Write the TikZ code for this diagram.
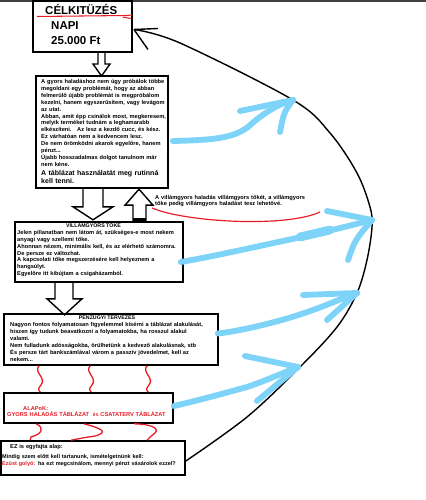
\documentclass[tikz,border=0pt]{standalone}
\usepackage{fontspec}
\setmainfont{Liberation Sans}
\usepackage{tikz}
\usetikzlibrary{calc, fit}
\definecolor{skyblue}{RGB}{125,211,248}
\definecolor{markred}{RGB}{232,28,36}

\begin{document}
\begin{tikzpicture}[x=0.03cm, y=-0.03cm,
  box/.style={draw, line width=1.4pt, inner sep=0pt},
  txt/.style={anchor=base west, inner sep=0pt, align=left, text width=7cm,
    font=\fontsize{4.85}{5.9}\selectfont\bfseries},
  title/.style={anchor=base, inner sep=0pt, font=\fontsize{4.5}{5}\selectfont\bfseries},
  big/.style={anchor=base west, inner sep=0pt, font=\fontsize{9.8}{12}\selectfont\bfseries},
  hollow/.style={draw, line width=1.2pt, line join=miter},
  squiggle/.style={markred, line width=1.1pt},
  bluearrow/.style={skyblue, line width=5pt, line cap=round, line join=round}]

  \useasboundingbox[fill=white] (0,0) rectangle (426,500);
  \draw[black!75, line width=1.1pt] (0,1) -- (426,1);

  % celkituzes
  \node[box, line width=1.7pt, fit={(33,1) (132,52)}] (celbox) {};
  \node[big] (celtitle) at (45,14) {CÉLKITÜZÉS};
  \node[big] (napi) at (51,29.5) {NAPI};
  \node[big] (osszeg) at (51,44.5) {25.000 Ft};
  \draw[markred, line width=0.9pt] (37,16.5) -- (126,15.5) -- (132,15);
  \draw[markred, line width=0.9pt] (123,17.2) -- (131,18.4);

  % gyors haladas
  \node[box, fit={(36,76) (168,188)}] (gyorsbox) {};
  \node[txt] (gyorstxt) at (41,83.5) {A gyors haladáshoz nem úgy próbálok többe\\
    megoldani egy problémát, hogy az abban\\
    felmerülő újabb problémát is megpróbálom\\
    kezelni, hanem egyszerűsítem, vagy levágom\\
    az utat.\\
    Abban, amit épp csinálok most, megkeresem,\\
    melyik terméket tudnám a leghamarabb\\
    elkészíteni.\ \ \ Az lesz a kezdő cucc, és kész.\\
    Ez várhatóan nem a kedvencem lesz.\\
    De nem örömködni akarok egyelőre, hanem\\
    pénzt...\\
    Újabb hosszadalmas dolgot tanulnom már\\
    nem kéne.};
  \node[txt, font=\fontsize{6}{6.8}\selectfont\bfseries] (gyorsbig) at (41,175.3)
    {A táblázat használatát meg rutinná\\ kell tenni.};

  % villamgyors toke
  \node[box, fit={(15,222) (183,282)}] (villbox) {};
  \node[title] (villtitle) at (93.5,227.7) {VILLÁMGYORS TŐKE};
  \node[txt] (villtxt) at (17,234.3) {Jelen pillanatban nem látom át, szükséges-e most nekem\\
    anyagi vagy szellemi tőke.\\
    Ahonnan nézem, minimális kell, és az elérhető számomra.\\
    De persze ez változhat.\\
    A kapcsolati tőke megszerzésére kell helyeznem a\\
    hangsúlyt.\\
    Egyelőre itt kibújtam a csigaházamból.};
  \node[txt] (sidetxt) at (155,199) {A villámgyors haladás villámgyors tőkét, a villámgyors\\
    tőke pedig villámgyors haladást tesz lehetővé.};
  \draw[markred, line width=1pt] (152,208) .. controls (185,222) and (285,228) .. (320,212);

  % penzugyi tervezes
  \node[box, fit={(4,314) (218,365)}] (penzbox) {};
  \node[title] (penztitle) at (107,319.7) {PÉNZÜGYI TERVEZÉS};
  \node[txt] (penztxt) at (10,326.7) {Nagyon fontos folyamatosan figyelemmel kísérni a táblázat alakulását,\\
    hiszen így tudunk beavatkozni a folyamatokba, ha rosszul alakul\\
    valami.\\
    Nem fulladunk adósságokba, örülhetünk a kedvező alakulásnak, stb\\
    És persze tárt bankszámlával várom a passzív jövedelmet, kell az\\
    nekem...};

  % alapok
  \node[box, fit={(4,393) (173,423)}] (alapbox) {};
  \node[txt, text=markred] (alapcim) at (23,410.7) {ALAPoK:};
  \node[txt, text=markred] (alaptxt) at (7,416.7)
    {GYORS HALADÁS TÁBLÁZAT\ \ {\fontsize{4.3}{5}\selectfont és} CSATATERV TÁBLÁZAT};

  % ez is alap
  \node[box, fit={(1,441) (185,475)}] (ezbox) {};
  \node[txt] (ezcim) at (10,448.3) {EZ is egyfajta alap:};
  \node[txt, font=\fontsize{4.7}{5.6}\selectfont\bfseries] (eztxt) at (2,458.7)
    {Mindig szem előtt kell tartanunk, ismételgetnünk kell:\\
    \textcolor{markred}{Ezüst golyó:} ha ezt megcsinálom, mennyi pénzt vásárolok ezzel?};

  % hollow arrows
  \draw[hollow] ($(celbox.south)+(15.5,0)$) -- ++(0,11) -- ++(-5,0) -- ++(8.5,12)
    -- ++(8.5,-12) -- ++(-5,0) -- ++(0,-11);
  \draw[hollow] ($(gyorsbox.south)+(-19,0)$) -- ++(0,18) -- ++(-10,0) -- ++(20,13)
    -- ++(20,-13) -- ++(-10,0) -- ++(0,-18);
  \draw[hollow] ($(villbox.north)+(34,0)$) -- ++(0,-16) -- ++(-8,0) -- ++(14,-16)
    -- ++(14,16) -- ++(-7,0) -- ++(0,16);
  \fill ($(villbox.north)+(34,-3)$) rectangle ++(13,3);
  \draw[hollow] ($(villbox.south)+(-44,0)$) -- ++(0,16) -- ++(-8,0) -- ++(17.5,16)
    -- ++(17.5,-16) -- ++(-9,0) -- ++(0,-16);

  % squiggles
  \draw[squiggle] ($(penzbox.south west)+(36,0)$) .. controls (33,372) and (47,378) .. (41,385)
    .. controls (38,389) .. ($(alapbox.north west)+(37,0)$);
  \draw[squiggle] ($(penzbox.south west)+(87,0)$) .. controls (84,372) and (98,378) .. (92,385)
    .. controls (89,389) .. ($(alapbox.north west)+(88,0)$);
  \draw[squiggle] ($(penzbox.south west)+(144,0)$) .. controls (141,372) and (155,378) .. (149,385)
    .. controls (146,389) .. ($(alapbox.north west)+(145,0)$);
  \draw[squiggle] ($(alapbox.south west)+(33,0)$) .. controls (45,428) and (42,434) .. (31,437)
    -- ($(ezbox.north west)+(30,0)$);
  \draw[squiggle] ($(alapbox.south west)+(81,0)$) .. controls (100,428) and (110,432) .. (95,436)
    .. controls (82,438) .. ($(ezbox.north west)+(71,0)$);
  \draw[squiggle] ($(alapbox.south west)+(131,0)$) .. controls (150,424) and (160,428) .. (155,433)
    .. controls (150,437) .. ($(ezbox.north west)+(147,0)$);

  % big curve back to the goal
  \coordinate (celtip) at ($(celbox.east)+(1,3)$);
  \coordinate (eztip) at ($(ezbox.east)+(0,3)$);
  \draw[line width=1.2pt] plot[smooth, tension=0.55] coordinates {(eztip) (247,417) (300,367)
    (337,327) (357,293) (367,260) (372,227) (370,207) (357,173) (330,133) (293,100) (180,43) (celtip)};
  \draw[line width=1.2pt] (celtip) -- ++(24,-1);
  \draw[line width=1.2pt] (celtip) -- ++(14,20);

  % blue arrows
  \coordinate (tipA) at (293,100);
  \coordinate (tipB) at (372,220);
  \coordinate (tipC) at (357,293);
  \coordinate (tipD) at (298,367);
  \draw[bluearrow] ($(gyorsbox.east)+(4,9)$) .. controls (210,140) and (232,139) .. (248,127)
    .. controls (262,114) and (278,104) .. (tipA);
  \draw[bluearrow] (tipA) -- (240,111);
  \draw[bluearrow] (tipA) .. controls (284,112) .. (280,132);
  \draw[bluearrow] ($(villbox.east)+(-3,10)$) .. controls (215,256) and (250,248) .. (297,238)
    .. controls (320,233) and (345,227) .. (tipB);
  \draw[bluearrow, line width=7.5pt] (300,237) -- (330,230);
  \draw[bluearrow] (tipB) -- (327,211);
  \draw[bluearrow] (tipB) .. controls (355,240) .. (348,260);
  \draw[bluearrow] ($(penzbox.east)+(-1,-6)$) .. controls (240,331) and (280,322) .. (313,310)
    .. controls (330,304) and (345,297) .. (tipC);
  \draw[bluearrow] (tipC) -- (303,295);
  \draw[bluearrow] (tipC) -- (327,320);
  \draw[bluearrow] ($(alapbox.east)+(0,-2)$) .. controls (200,400) and (225,393) .. (247,387)
    .. controls (265,381) and (285,372) .. (tipD);
  \draw[bluearrow] (tipD) -- (245,356);
  \draw[bluearrow] (tipD) -- (257,401);
\end{tikzpicture}
\end{document}
